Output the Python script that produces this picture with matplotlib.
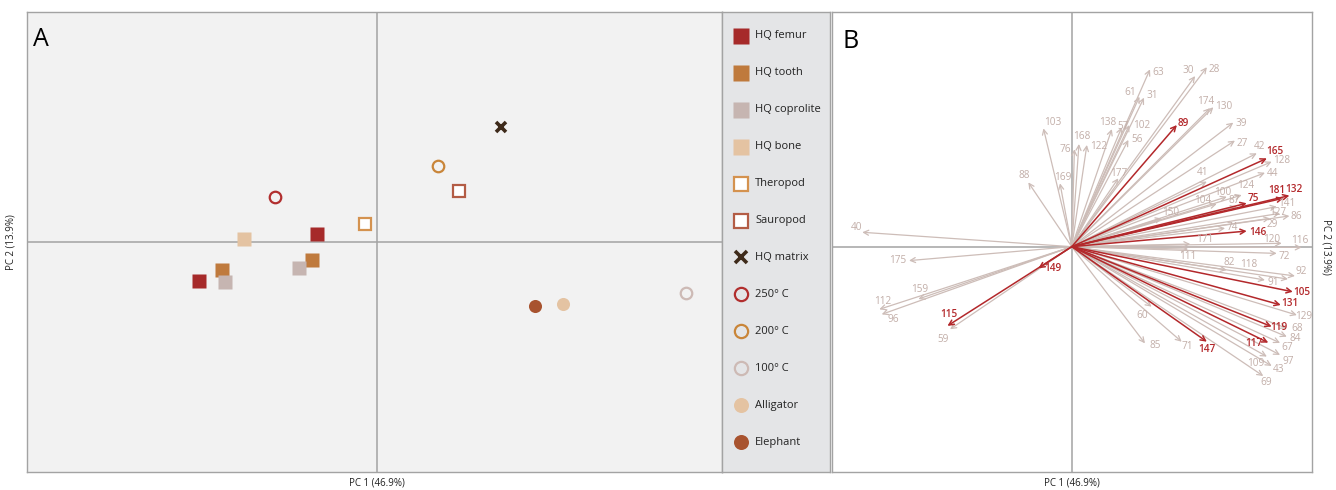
import numpy as np
import matplotlib
matplotlib.use('Agg')
import matplotlib.pyplot as plt
import matplotlib.transforms as mtransforms

plt.rcParams['font.family'] = ['Open Sans', 'DejaVu Sans']

# ---- Panel A: PCA scores --------------------------------------------------
groups = ['HQ femur', 'HQ tooth', 'HQ coprolite', 'HQ bone', 'Theropod', 'Sauropod',
          'HQ matrix', '250° C', '200° C', '100° C', 'Alligator', 'Elephant']
score_pc1 = [[-3.57, -1.21], [-3.11, -1.31], [-3.05, -1.57], [-2.67], [-0.25], [1.63],
             [2.47], [-2.05], [1.22], [6.17], [3.71], [3.15]]
score_pc2 = [[-0.78, 0.15], [-0.55, -0.35], [-0.80, -0.52], [0.06], [0.35], [1.02],
             [2.30], [0.90], [1.52], [-1.02], [-1.24], [-1.28]]

# marker, face colour, edge colour for each group
styles = {
    'HQ femur':     ('s', '#a62a2a', 'none'),
    'HQ tooth':     ('s', '#bf7a3d', 'none'),
    'HQ coprolite': ('s', '#c6b5b1', 'none'),
    'HQ bone':      ('s', '#e4c3a2', 'none'),
    'Theropod':     ('s', 'white', '#d4924f'),
    'Sauropod':     ('s', 'white', '#b35c45'),
    'HQ matrix':    ('x', '#3e2a1a', '#3e2a1a'),
    '250° C':       ('o', 'none', '#b12e2e'),
    '200° C':       ('o', 'none', '#c98539'),
    '100° C':       ('o', 'none', '#cdbab5'),
    'Alligator':    ('o', '#e4c3a2', 'none'),
    'Elephant':     ('o', '#a8532f', 'none'),
}

# ---- Panel B: variable loadings -------------------------------------------
var_ids = [63, 30, 28, 61, 31, 138, 57, 102, 56, 168, 122, 76, 177, 89, 174, 130, 39, 27,
           42, 165, 128, 44, 41, 124, 100, 75, 87, 104, 181, 132, 141, 127, 86, 29, 150,
           74, 146, 171, 120, 116, 111, 72, 82, 118, 91, 92, 105, 131, 129, 60, 119, 68,
           84, 117, 67, 85, 71, 147, 97, 109, 43, 69, 103, 88, 169, 40, 175, 149, 159,
           112, 96, 115, 59]
load_pc1 = [0.326, 0.514, 0.563, 0.282, 0.301, 0.167, 0.208, 0.240, 0.236, 0.030, 0.063,
            0.011, 0.194, 0.438, 0.576, 0.590, 0.673, 0.680, 0.771, 0.813, 0.833, 0.805,
            0.563, 0.708, 0.646, 0.729, 0.688, 0.604, 0.882, 0.907, 0.854, 0.868, 0.907,
            0.826, 0.375, 0.639, 0.729, 0.494, 0.875, 0.958, 0.485, 0.854, 0.646, 0.901,
            0.805, 0.930, 0.921, 0.871, 0.938, 0.333, 0.833, 0.896, 0.896, 0.819, 0.868,
            0.305, 0.458, 0.563, 0.868, 0.813, 0.833, 0.798, -0.118, -0.181, -0.049,
            -0.873, -0.678, -0.139, -0.639, -0.802, -0.792, -0.518, -0.507]
load_pc2 = [0.739, 0.711, 0.748, 0.625, 0.621, 0.490, 0.497, 0.507, 0.445, 0.428, 0.424,
            0.406, 0.285, 0.507, 0.577, 0.581, 0.517, 0.442, 0.389, 0.368, 0.354, 0.308,
            0.271, 0.215, 0.208, 0.181, 0.167, 0.178, 0.202, 0.213, 0.167, 0.139, 0.128,
            0.118, 0.118, 0.077, 0.065, 0.011, 0.014, -0.003, -0.010, -0.028, -0.097,
            -0.135, -0.139, -0.122, -0.188, -0.243, -0.285, -0.250, -0.333, -0.340,
            -0.375, -0.400, -0.401, -0.403, -0.396, -0.396, -0.451, -0.458, -0.497,
            -0.539, 0.493, 0.268, 0.264, 0.060, -0.058, -0.090, -0.218, -0.261, -0.282,
            -0.330, -0.344]
highlighted = {89, 165, 75, 181, 132, 146, 105, 131, 119, 117, 147, 149, 115}

# label offsets from the arrow tip (pixels, x right / y up)
label_nudge = {
    63: (8, -3), 30: (-7, 6), 28: (7, -2), 61: (-9, 4), 31: (8, 2), 138: (-4, 7),
    57: (1, 1), 102: (12, 0), 56: (9, 0), 168: (3, 7), 122: (12, -2), 76: (-9, 0),
    177: (0, 5), 89: (6, 2), 174: (-4, 7), 130: (10, 1), 39: (8, -1), 27: (7, -3),
    42: (3, 7), 165: (8, 7), 128: (10, 1), 44: (8, -1), 41: (-4, 9), 124: (4, 10),
    100: (-4, 4), 75: (7, 5), 87: (-3, 6), 104: (-14, 3), 181: (-7, 8), 132: (4, 6),
    141: (10, 3), 127: (-2, 1), 86: (7, -1), 29: (2, -6), 150: (9, 6), 74: (7, 1),
    146: (11, -1), 171: (14, 5), 120: (-10, 4), 116: (-2, 7), 111: (0, -7),
    72: (7, -3), 82: (2, 7), 118: (-39, 15), 91: (8, -2), 92: (6, 4), 105: (9, -1),
    131: (9, 1), 129: (7, -1), 60: (-9, -9), 119: (7, -1), 68: (10, 0), 84: (8, -2),
    117: (-14, -1), 67: (7, -5), 85: (10, -2), 71: (6, -5), 147: (0, -8), 97: (8, -7),
    109: (-11, -7), 43: (7, -4), 69: (3, -6), 103: (9, 6), 88: (-4, 7), 169: (3, 6),
    40: (-6, 5), 175: (-11, 0), 149: (15, 0), 159: (1, 9), 112: (3, 8), 96: (12, -5),
    115: (1, 11), 59: (-7, -10),
}

GRID = '#a3a3a3'
ARROW_GREY = '#cdbdb8'
TEXT_GREY = '#c2aea8'
ARROW_RED = '#b3282b'

W, H = 1336, 490
fig = plt.figure(figsize=(W / 100, H / 100), dpi=100)


def frac(left, top, right, bottom):
    # convert a pixel box into figure fractions
    return [left / W, 1 - bottom / H, (right - left) / W, (bottom - top) / H]


def style_frame(ax):
    for s in ax.spines.values():
        s.set_color(GRID)
        s.set_linewidth(1.0)
    ax.set_xticks([])
    ax.set_yticks([])


def axis_titles(ax, right_side=False):
    trans = mtransforms.blended_transform_factory(ax.transData, ax.transAxes)
    ax.text(0, -0.012, 'PC 1 (46.9%)', transform=trans, ha='center', va='top',
            fontsize=7, color='#222222')
    trans = mtransforms.blended_transform_factory(ax.transAxes, ax.transData)
    if right_side:
        ax.text(1.03, 0, 'PC 2 (13.9%)', transform=trans, ha='center', va='center',
                rotation=270, fontsize=7, color='#222222')
    else:
        ax.text(-0.023, 0, 'PC 2 (13.9%)', transform=trans, ha='center', va='center',
                rotation=90, fontsize=7, color='#222222')


def draw_marker(ax, x, y, name, ms_scale=1.0):
    marker, face, edge = styles[name]
    if marker == 'x':
        ax.plot(x, y, 'x', color=face, ms=7 * ms_scale, mew=2.6, ls='none')
    elif edge == 'none':
        ax.plot(x, y, marker, mfc=face, mec='none', ms=9.4 * ms_scale, ls='none')
    else:
        ax.plot(x, y, marker, mfc=face, mec=edge, ms=8.3 * ms_scale, mew=1.6, ls='none')


# Panel A: scores
axA = fig.add_axes(frac(27, 12, 722, 472))
axA.set_facecolor('#f2f2f2')
axA.set_xlim(-7.0, 6.9)
axA.set_ylim(-4.6, 4.6)
axA.axhline(0, color=GRID, lw=1.1, zorder=1)
axA.axvline(0, color=GRID, lw=1.1, zorder=1)
for name, xs, ys in zip(groups, score_pc1, score_pc2):
    draw_marker(axA, xs, ys, name)
style_frame(axA)
axis_titles(axA)
axA.text(0.009, 0.968, 'A', transform=axA.transAxes, fontsize=18, ha='left', va='top')

# legend column
axL = fig.add_axes(frac(722, 12, 830, 472))
axL.set_facecolor('#e4e5e7')
axL.set_xlim(0, 108)
axL.set_ylim(460, 0)
rows = np.linspace(23.7, 430.3, len(groups))
for name, y in zip(groups, rows):
    draw_marker(axL, [19], [y], name, ms_scale=1.15)
    axL.text(33, y, name, fontsize=8, va='center', ha='left', color='#222222')
style_frame(axL)

# Panel B: loadings
axB = fig.add_axes(frac(832, 12, 1312, 472))
axB.set_facecolor('white')
axB.set_xlim(-0.999, 1.001)
axB.set_ylim(-0.939, 0.978)
axB.axhline(0, color=GRID, lw=1.1, zorder=1)
axB.axvline(0, color=GRID, lw=1.1, zorder=1)

order = sorted(range(len(var_ids)), key=lambda i: var_ids[i] in highlighted)
for i in order:
    vid = var_ids[i]
    red = vid in highlighted
    col = ARROW_RED if red else ARROW_GREY
    axB.annotate('', xy=(load_pc1[i], load_pc2[i]), xytext=(0, 0),
                 arrowprops=dict(arrowstyle='->', color=col, lw=1.1 if red else 0.9,
                                 shrinkA=0, shrinkB=0, mutation_scale=9),
                 zorder=3 if red else 2)
    dx, dy = label_nudge.get(vid, (6, 0))
    axB.annotate(str(vid), xy=(load_pc1[i], load_pc2[i]), xytext=(dx, dy),
                 textcoords='offset pixels', ha='center', va='center',
                 fontsize=7.2, color=ARROW_RED if red else TEXT_GREY,
                 fontweight='semibold' if red else 'normal', zorder=4)
style_frame(axB)
axis_titles(axB, right_side=True)
axB.text(0.022, 0.962, 'B', transform=axB.transAxes, fontsize=18, ha='left', va='top')

fig.savefig('out.png', dpi=100)
